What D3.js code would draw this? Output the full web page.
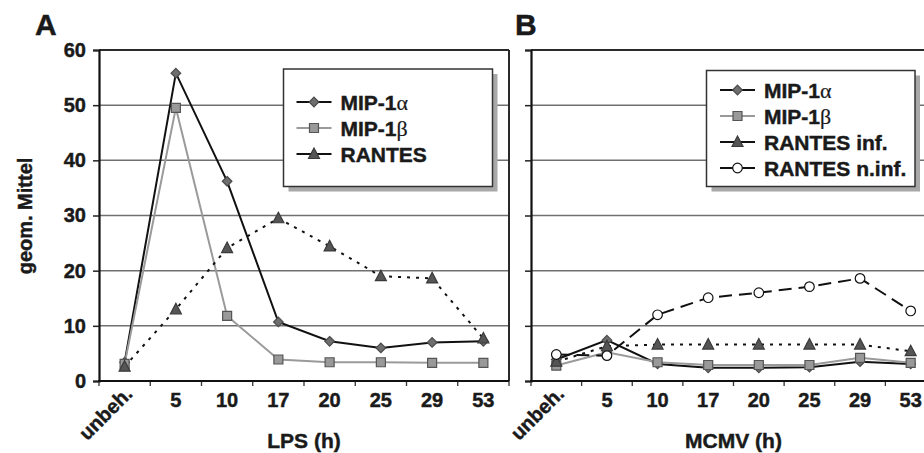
<!DOCTYPE html>
<html>
<head>
<meta charset="utf-8">
<script src="https://cdn.jsdelivr.net/npm/d3@7"></script>
<style>
  html, body { margin: 0; padding: 0; background: #fff; }
  svg { display: block; }
  text { font-family: "Liberation Sans", Arial, sans-serif; font-weight: bold; fill: #1a1a1a;
         stroke: #1a1a1a; stroke-width: 0.45px; }
  .greek { font-family: "Liberation Serif", "DejaVu Serif", serif; font-weight: normal; stroke-width: 0.2px; }
</style>
</head>
<body>
<svg id="chart" width="924" height="453"></svg>
<script>
// Time points (hours after stimulation)
const categories = ["unbeh.", "5", "10", "17", "20", "25", "29", "53"];
const yTicks = [0, 10, 20, 30, 40, 50, 60];

// Panel A: LPS stimulation, geometric mean fluorescence
const lpsMip1a   = [3.4, 55.8, 36.2, 10.7, 7.2, 6.0, 7.0, 7.2];
const lpsMip1b   = [3.1, 49.5, 11.8, 3.9, 3.4, 3.4, 3.3, 3.3];
const lpsRantes  = [2.6, 13.0, 24.1, 29.5, 24.4, 19.0, 18.6, 7.7];

// Panel B: MCMV infection
const mcmvMip1a       = [3.9, 7.4, 3.1, 2.4, 2.4, 2.5, 3.5, 3.1];
const mcmvMip1b       = [2.8, 5.2, 3.4, 2.9, 2.9, 2.9, 4.2, 3.3];
const mcmvRantesInf   = [3.5, 6.3, 6.6, 6.6, 6.6, 6.6, 6.6, 5.4];
const mcmvRantesNinf  = [4.8, 4.6, 12.0, 15.1, 16.0, 17.1, 18.6, 12.7];

const svg = d3.select("#chart");

// Marker shapes
const shapes = {
  diamond: r => `M0,${-r}L${r},0L0,${r}L${-r},0Z`,
  square: r => `M${-r},${-r}H${r}V${r}H${-r}Z`,
  triangle: r => `M0,${-r * 1.2}L${r * 1.1},${r * 0.9}L${-r * 1.1},${r * 0.9}Z`,
  circle: r => d3.symbol(d3.symbolCircle, Math.PI * r * r)()
};

const styles = {
  mip1a:  { stroke: "#111", width: 2,   dash: null,  shape: "diamond",  r: 4.8, fill: "#6e6e6e", mstroke: "#4a4a4a" },
  mip1b:  { stroke: "#9a9a9a", width: 2, dash: null, shape: "square",   r: 4.5, fill: "#999",    mstroke: "#555" },
  rantes: { stroke: "#111", width: 2,   dash: "3,6", shape: "triangle", r: 5,   fill: "#555",    mstroke: "#3a3a3a" },
  ninf:   { stroke: "#111", width: 2,   dash: "13,7", shape: "circle",  r: 4.8, fill: "#fff",    mstroke: "#111" }
};

function drawPanel(opts) {
  const { left, right, top, bottom, series, showYLabels, xTitle, letter, letterX, legend } = opts;
  const g = svg.append("g");

  const x = d3.scaleBand().domain(categories).range([left, right]);
  const y = d3.scaleLinear().domain([0, 60]).range([bottom, top]);

  // Grid lines
  g.append("g").selectAll("line").data(yTicks.filter(t => t > 0 && t < 60)).join("line")
    .attr("x1", left).attr("x2", right)
    .attr("y1", d => y(d)).attr("y2", d => y(d))
    .attr("stroke", "#707070").attr("stroke-width", 1.5);

  // Frame: top and right
  g.append("line").attr("x1", left).attr("x2", right).attr("y1", top).attr("y2", top)
    .attr("stroke", "#2a2a2a").attr("stroke-width", 2);
  g.append("line").attr("x1", right).attr("x2", right).attr("y1", top).attr("y2", bottom)
    .attr("stroke", "#2a2a2a").attr("stroke-width", 2);

  // Y axis
  const yAxis = d3.axisLeft(y).tickValues(yTicks).tickSize(6).tickPadding(7)
    .tickFormat(showYLabels ? d3.format("d") : () => "");
  const ya = g.append("g").attr("transform", `translate(${left},0)`).call(yAxis);
  ya.select(".domain").attr("stroke", "#111").attr("stroke-width", 2.2);
  ya.selectAll(".tick line").attr("stroke", "#222").attr("stroke-width", 1.5);
  ya.selectAll(".tick text").attr("font-size", 20).attr("fill", "#1a1a1a")
    .attr("font-family", "Liberation Sans, Arial, sans-serif").attr("font-weight", "bold");

  // X axis: tick marks on band boundaries, labels at band centres
  const bounds = d3.range(categories.length + 1).map(i => left + i * x.bandwidth());
  g.append("g").selectAll("line").data(bounds).join("line")
    .attr("x1", d => d).attr("x2", d => d).attr("y1", bottom).attr("y2", bottom + 5)
    .attr("stroke", "#333").attr("stroke-width", 1.3);
  g.append("line").attr("x1", left - 1).attr("x2", right).attr("y1", bottom).attr("y2", bottom)
    .attr("stroke", "#111").attr("stroke-width", 2.2);

  const xa = g.append("g").attr("transform", `translate(0,${bottom})`)
    .call(d3.axisBottom(x).tickSize(0).tickPadding(0));
  xa.select(".domain").remove();
  xa.selectAll(".tick text")
    .attr("font-size", 20).attr("fill", "#1a1a1a")
    .attr("font-family", "Liberation Sans, Arial, sans-serif").attr("font-weight", "bold")
    .attr("dy", null)
    .each(function (d) {
      const t = d3.select(this);
      if (d === "unbeh.") {
        t.attr("text-anchor", "end").attr("transform", "translate(9,14) rotate(-45)").attr("y", 0);
      } else {
        t.attr("y", 26);
      }
    });

  // Axis title
  g.append("text").attr("x", (left + right) / 2).attr("y", 448)
    .attr("text-anchor", "middle").attr("font-size", 21).text(xTitle);

  // Panel letter
  g.append("text").attr("x", letterX).attr("y", 35).attr("font-size", 30).text(letter);

  // Series
  const line = d3.line().x((d, i) => x(categories[i]) + x.bandwidth() / 2).y(d => y(d));
  series.forEach(s => {
    const st = styles[s.style];
    g.append("path").datum(s.values).attr("d", line)
      .attr("fill", "none").attr("stroke", st.stroke).attr("stroke-width", st.width)
      .attr("stroke-dasharray", st.dash);
  });
  series.forEach(s => {
    const st = styles[s.style];
    g.append("g").selectAll("path").data(s.values).join("path")
      .attr("transform", (d, i) => `translate(${x(categories[i]) + x.bandwidth() / 2},${y(d)})`)
      .attr("d", shapes[st.shape](st.r))
      .attr("fill", st.fill).attr("stroke", st.mstroke).attr("stroke-width", 1.2);
  });

  // Legend
  const lg = g.append("g");
  lg.append("rect").attr("x", legend.x + 5).attr("y", legend.y + 5)
    .attr("width", legend.w).attr("height", legend.h).attr("fill", "#a8a8a8");
  lg.append("rect").attr("x", legend.x).attr("y", legend.y)
    .attr("width", legend.w).attr("height", legend.h)
    .attr("fill", "#fff").attr("stroke", "#333").attr("stroke-width", 1.5);
  series.forEach((s, i) => {
    const st = styles[s.style];
    const cy = legend.rowY + i * legend.rowStep;
    const x0 = legend.x + legend.sampleX, x1 = x0 + 35;
    lg.append("line").attr("x1", x0).attr("x2", x1).attr("y1", cy).attr("y2", cy)
      .attr("stroke", st.stroke).attr("stroke-width", st.width)
      .attr("stroke-dasharray", st.style === "rantes" ? "3,4" : (st.style === "ninf" ? "8,5" : null));
    lg.append("path").attr("transform", `translate(${(x0 + x1) / 2},${cy})`)
      .attr("d", shapes[st.shape](st.r)).attr("fill", st.fill)
      .attr("stroke", st.mstroke).attr("stroke-width", 1.2);
    const tx = lg.append("text").attr("x", x1 + 9).attr("y", cy + 7.5).attr("font-size", 21);
    tx.append("tspan").text(s.label);
    if (s.greek) tx.append("tspan").attr("class", "greek").attr("font-size", 22).text(s.greek);
  });
}

drawPanel({
  left: 99, right: 509, top: 50, bottom: 381, showYLabels: true,
  xTitle: "LPS (h)", letter: "A", letterX: 35,
  series: [
    { label: "MIP-1", greek: "\u03b1", values: lpsMip1a, style: "mip1a" },
    { label: "MIP-1", greek: "\u03b2", values: lpsMip1b, style: "mip1b" },
    { label: "RANTES", values: lpsRantes, style: "rantes" }
  ],
  legend: { x: 283.5, y: 69, w: 209, h: 117.5, sampleX: 13, rowY: 102, rowStep: 26 }
});

drawPanel({
  left: 531, right: 936, top: 50, bottom: 381, showYLabels: false,
  xTitle: "MCMV (h)", letter: "B", letterX: 515,
  series: [
    { label: "MIP-1", greek: "\u03b1", values: mcmvMip1a, style: "mip1a" },
    { label: "MIP-1", greek: "\u03b2", values: mcmvMip1b, style: "mip1b" },
    { label: "RANTES inf.", values: mcmvRantesInf, style: "rantes" },
    { label: "RANTES n.inf.", values: mcmvRantesNinf, style: "ninf" }
  ],
  legend: { x: 706.5, y: 70.5, w: 208.5, h: 116, sampleX: 13.5, rowY: 90, rowStep: 26 }
});

// Shared y-axis title
svg.append("text").attr("transform", "translate(32,216) rotate(-90)")
  .attr("text-anchor", "middle").attr("font-size", 20).text("geom. Mittel");
</script>
</body>
</html>
